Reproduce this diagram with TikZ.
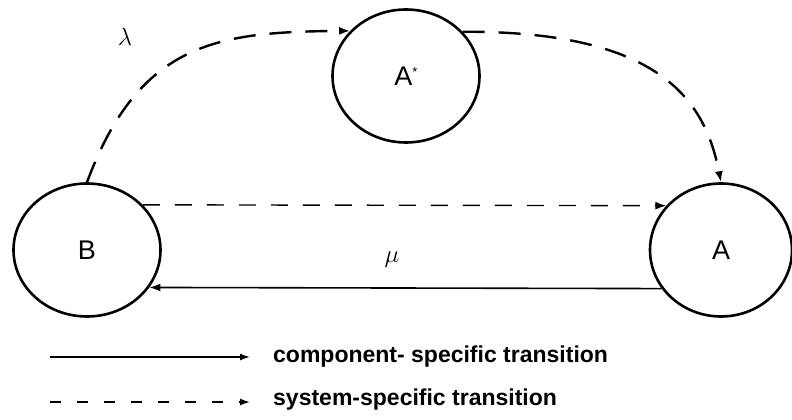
\documentclass[tikz,border=0pt]{standalone}
\usepackage{fontspec}
\setmainfont{Liberation Sans}
\usetikzlibrary{arrows.meta,shapes.geometric}
\begin{document}
\begin{tikzpicture}[x=1pt,y=1pt,
  state/.style={draw, ellipse, line width=2.6pt, minimum width=147pt, minimum height=133pt, inner sep=0pt, font=\fontsize{27}{30}\selectfont},
  tip/.style={-{Latex[length=11pt,width=8pt]}},
  curvedash/.style={line width=2.4pt, dash pattern=on 22pt off 14pt, tip},
  straightdash/.style={line width=1.4pt, dash pattern=on 17pt off 15pt, tip},
  solidline/.style={line width=1.6pt, tip},
  legtext/.style={anchor=west, inner sep=0pt, font=\bfseries\fontsize{23}{26}\selectfont}
]
\useasboundingbox (0,0) rectangle (792,420);
\node[state] (B) at (87,170) {B};
\node[state, minimum width=142pt] (A) at (721,170) {A};
\node[state] (As) at (406,344) {A\raisebox{9pt}{\fontsize{13}{14}\selectfont *}};
\draw[curvedash] (B.north) .. controls (140,380) and (220,388) .. (As.141);
\draw[curvedash] (As.38) .. controls (660,389) and (705,320) .. (A.north);
\draw[straightdash] (B.39) -- (A.141);
\draw[solidline] (A.213) -- (B.-31);
\node (lam) at (125,383) {\fontsize{24}{26}\selectfont$\lambda$};
\node (mu) at (392,160) {\fontsize{26}{28}\selectfont$\mu$};
\coordinate (l1s) at (50,63);
\coordinate (l1e) at (250,63);
\coordinate (l2s) at (50,18);
\coordinate (l2e) at (250,18);
\draw[line width=1.4pt, -{Latex[length=10pt,width=7pt]}] (l1s) -- (l1e);
\draw[line width=1.4pt, dash pattern=on 11pt off 16pt, -{Latex[length=10pt,width=7pt]}] (l2s) -- (l2e);
\node[legtext] (t1) at (273,63) {component- specific transition};
\node[legtext] (t2) at (273,20) {system-specific transition};
\end{tikzpicture}
\end{document}
